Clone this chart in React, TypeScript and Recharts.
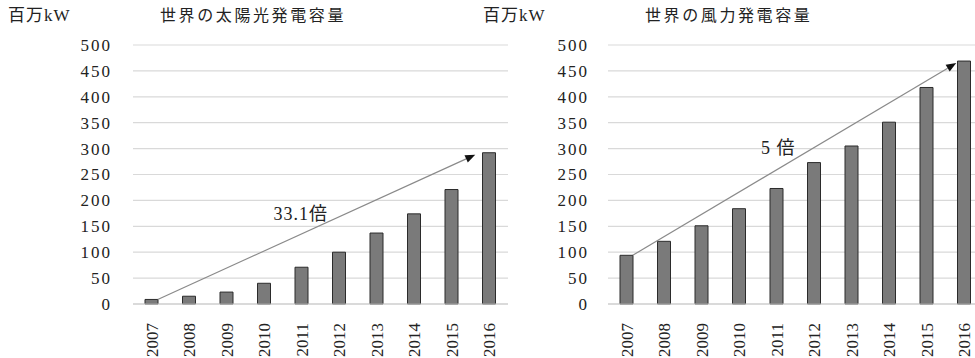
import React from 'react';
import { BarChart, Bar, XAxis, YAxis, CartesianGrid, ReferenceLine } from 'recharts';

const years = ['2007', '2008', '2009', '2010', '2011', '2012', '2013', '2014', '2015', '2016'];
const solarValues = [8.8, 15, 23, 40, 71, 100, 137, 174, 221, 292];
const windValues = [94, 121, 151, 184, 223, 273, 305, 351, 418, 469];
const yTicks = [0, 50, 100, 150, 200, 250, 300, 350, 400, 450, 500];

const unitLabel = '百万kW';
const solarTitle = '世界の太陽光発電容量';
const windTitle = '世界の風力発電容量';
const solarRatio = '33.1倍';
const windRatio = '5 倍';

const serif = 'Liberation Serif, Noto Sans CJK JP, serif';

const solarData = years.map((year, i) => ({ year, value: solarValues[i] }));
const windData = years.map((year, i) => ({ year, value: windValues[i] }));

const YearTick = (props: any) => {
    const { x, y, payload } = props;
    return (
        <text
            transform={`translate(${x}, ${y + 11}) rotate(-90)`}
            textAnchor="end"
            dy="0.35em"
            fontFamily={serif}
            fontSize={17}
            fill="#222"
        >
            {payload.value}
        </text>
    );
};

const ValueTick = (props: any) => {
    const { x, y, payload } = props;
    return (
        <text x={x + 2} y={y} textAnchor="end" dy="0.35em" fontFamily={serif} fontSize={17} letterSpacing={2} fill="#222">
            {payload.value}
        </text>
    );
};

// arrow from the first bar to the last one, with the growth ratio above it
const makeArrow = (label: string, endDx: number) => (props: any) => {
    const { x1, y1, x2, y2 } = props;
    const sx = x1 + 6;
    const sy = y1;
    const ex = x2 + endDx;
    const ey = y2 + 2;
    const ang = Math.atan2(ey - sy, ex - sx);
    const len = 10;
    const half = 4;
    const bx = ex - len * Math.cos(ang);
    const by = ey - len * Math.sin(ang);
    const px = -Math.sin(ang) * half;
    const py = Math.cos(ang) * half;
    const t = 0.45;
    const lx = sx + (ex - sx) * t;
    const ly = sy + (ey - sy) * t - 21;
    return (
        <g>
            <line x1={sx} y1={sy} x2={bx} y2={by} stroke="#8a8a8a" strokeWidth={1.2} />
            <polygon points={`${ex},${ey} ${bx + px},${by + py} ${bx - px},${by - py}`} fill="#111" />
            <text x={lx} y={ly} textAnchor="middle" dy="0.35em" fontFamily={serif} fontSize={18} letterSpacing={1} fill="#222">
                {label}
            </text>
        </g>
    );
};

interface PanelProps {
    data: { year: string; value: number }[];
    width: number;
    axisWidth: number;
    tickMargin: number;
    ratio: string;
    endDx: number;
}

const CapacityPanel: React.FC<PanelProps> = ({ data, width, axisWidth, tickMargin, ratio, endDx }) => {
    const last = data[data.length - 1];
    const first = data[0];
    return (
        <BarChart width={width} height={358} data={data} margin={{ top: 45, right: 2, bottom: 4, left: 0 }}>
            <CartesianGrid vertical={false} stroke="#d9d9d9" strokeWidth={1.2} />
            <XAxis
                dataKey="year"
                axisLine={{ stroke: '#c8c8c8' }}
                tickLine={false}
                height={50}
                interval={0}
                tick={<YearTick />}
            />
            <YAxis
                width={axisWidth}
                domain={[0, 500]}
                ticks={yTicks}
                axisLine={false}
                tickLine={false}
                tickSize={0}
                tickMargin={tickMargin}
                tick={<ValueTick />}
            />
            <Bar dataKey="value" barSize={13} fill="#7a7a7a" stroke="#2b2b2b" strokeWidth={1} isAnimationActive={false} />
            <ReferenceLine
                segment={[{ x: first.year, y: first.value }, { x: last.year, y: last.value }]}
                shape={makeArrow(ratio, endDx)}
                ifOverflow="visible"
            />
        </BarChart>
    );
};

const textStyle: React.CSSProperties = {
    position: 'absolute',
    fontFamily: serif,
    fontSize: 16,
    color: '#222',
    lineHeight: '20px',
    whiteSpace: 'nowrap',
};

export default function App() {
    return (
        <div style={{ position: 'absolute', left: 0, top: 0, width: 975, height: 358, overflow: 'hidden', background: '#fff' }}>
            <div style={{ position: 'absolute', left: 0, top: 0 }}>
                <CapacityPanel data={solarData} width={510} axisWidth={133} tickMargin={23} ratio={solarRatio} endDx={-14} />
            </div>
            <div style={{ position: 'absolute', left: 490, top: 0 }}>
                <CapacityPanel data={windData} width={495} axisWidth={118} tickMargin={21} ratio={windRatio} endDx={-8} />
            </div>
            <div style={{ ...textStyle, left: 8, top: 6, fontSize: 17, letterSpacing: 1 }}>{unitLabel}</div>
            <div style={{ ...textStyle, left: 160, top: 6, letterSpacing: 2.6 }}>{solarTitle}</div>
            <div style={{ ...textStyle, left: 483, top: 6, fontSize: 17, letterSpacing: 1 }}>{unitLabel}</div>
            <div style={{ ...textStyle, left: 645, top: 6, letterSpacing: 2.6 }}>{windTitle}</div>
        </div>
    );
}
